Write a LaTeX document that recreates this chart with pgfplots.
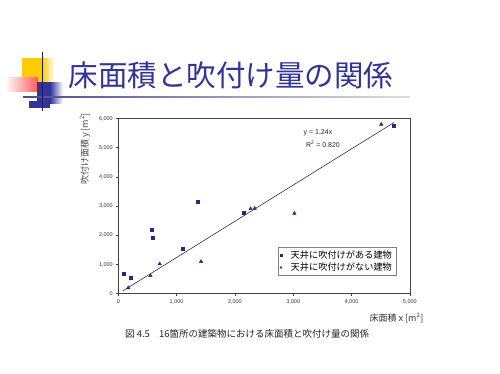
\documentclass[border=0pt]{standalone}
\usepackage{pgfplots}
\pgfplotsset{compat=1.18}
\usepackage{fontspec}
\setmainfont{Liberation Sans}
\newfontfamily\cjk{Noto Sans CJK JP}
\definecolor{navy}{RGB}{51,51,153}
\definecolor{ptcol}{RGB}{40,40,130}
\definecolor{decoyellow}{RGB}{255,204,0}
\definecolor{decored}{RGB}{255,90,90}
\begin{document}
\begin{tikzpicture}
\useasboundingbox (0pt,0pt) rectangle (500pt,-373pt);
\fill[white] (0pt,0pt) rectangle (500pt,-373pt);
\begin{scope}[x=1pt,y=1pt]
\fill[decoyellow] (22,-58) rectangle (42,-82);
\shade[left color=decoyellow, right color=white] (42,-58) rectangle (54,-82);
\shade[left color=white, right color=decored] (5,-77) rectangle (38,-91);
\fill[navy] (37,-82) rectangle (50,-103);
\shade[left color=navy, right color=white] (50,-82) rectangle (63,-103);
\fill[navy] (29,-101) rectangle (50,-108);
\shade[left color=navy!70!gray, right color=gray!25] (23,-96.3) rectangle (410,-97.7);
\draw[navy!60!black, line width=1] (42,-52) -- (42,-111);
\node[text=navy, font=\cjk\fontsize{29.5}{30}\selectfont, inner sep=0pt] at (231,-75) {床面積と吹付け量の関係};
\node[rotate=90, font=\cjk\fontsize{9}{10}\selectfont, text=black!70, inner sep=0pt] at (85,-149) {吹付け面積 y [m\textsuperscript{2}]};
\node[font=\cjk\fontsize{9}{10}\selectfont, text=black!80, inner sep=0pt] at (396.5,-318) {床面積 x [m\textsuperscript{2}]};
\node[font=\cjk\fontsize{9.5}{10}\selectfont, text=black!85, inner sep=0pt, anchor=west] at (125,-334) {図 4.5\hspace{9pt}16箇所の建築物における床面積と吹付け量の関係};
\end{scope}
\begin{axis}[
  at={(118.3pt,-293.7pt)}, anchor=south west,
  scale only axis, width=291.5pt, height=175.2pt,
  xmin=0, xmax=5000, ymin=0, ymax=6000,
  xtick={0,1000,2000,3000,4000,5000},
  ytick={0,1000,2000,3000,4000,5000,6000},
  tick pos=left, tick align=outside, major tick length=2pt,
  axis line style={gray!50!black, line width=0.6pt},
  tick style={gray!50!black, line width=0.5pt},
  tick label style={font=\fontsize{5.5}{6}\selectfont, text=black!80},
  /pgf/number format/1000 sep={,},
  /pgf/number format/assume math mode=true,
  scaled ticks=false,
  legend style={at={(rel axis cs:0.953,0.267)}, anchor=north east,
    font=\cjk\fontsize{9.2}{10}\selectfont, draw=gray, fill=white,
    inner xsep=2pt, inner ysep=1.5pt, row sep=-1pt, cells={anchor=west},
    legend image post style={mark size=1.1pt}},
  legend image code/.code={\node[inner sep=0pt, minimum width=7pt, minimum height=1pt] at (3.5pt,0pt) {}; \draw[#1] (3pt,0pt) -- plot coordinates {(3pt,0pt)};},
  legend cell align=left,
]
\addplot[only marks, mark=square*, mark size=1.5pt, color=ptcol] coordinates {
(85,680) (205,550) (575,2190) (595,1910) (1100,1550) (1370,3160) (2150,2770) (4730,5740)};
\addlegendentry{天井に吹付けがある建物}
\addplot[only marks, mark=triangle*, mark size=2pt, color=ptcol] coordinates {
(170,200) (550,620) (710,1020) (1420,1100) (2270,2910) (2340,2920) (3020,2750) (4510,5800)};
\addlegendentry{天井に吹付けがない建物}
\addplot[black!85, line width=0.55pt, forget plot] coordinates {(85,105.4) (4730,5865.2)};
\node[font=\fontsize{7}{8}\selectfont, text=black!85] at (axis cs:3425,5503) {y = 1.24x};
\node[font=\fontsize{7}{8}\selectfont, text=black!85] at (axis cs:3510,5127) {R\textsuperscript{2} = 0.820};
\end{axis}
\end{tikzpicture}
\end{document}
